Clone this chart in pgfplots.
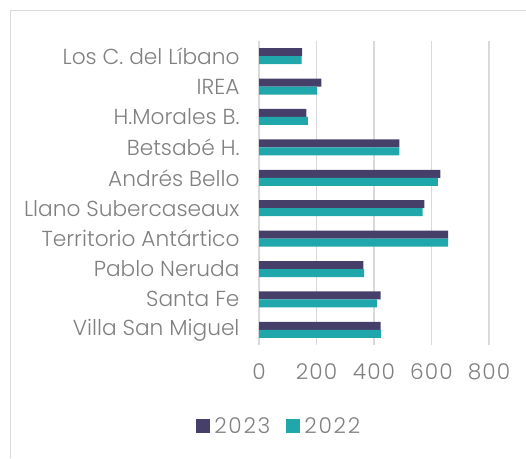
\documentclass[border=0pt]{standalone}
\usepackage{pgfplots}
\pgfplotsset{compat=1.18}
\usepackage{fontspec}
\setmainfont{Poppins}[UprightFont=* Light]
\definecolor{c23}{RGB}{70,63,106}
\definecolor{c22}{RGB}{32,167,172}
\definecolor{txt}{RGB}{128,128,128}
\definecolor{grd}{RGB}{217,217,217}
\begin{document}
\begin{tikzpicture}
\useasboundingbox (0,0) rectangle (526pt,458pt);
\draw[grd, line width=1.2pt] (10.5pt,0) -- (10.5pt,447.5pt) -- (526pt,447.5pt);
\begin{axis}[
  at={(259pt,113pt)}, anchor=south west,
  scale only axis, width=230pt, height=304pt,
  xbar, bar width=8pt,
  xmin=0, xmax=800, ymin=-0.5, ymax=9.5,
  xtick={0,200,400,600,800},
  ytick={0,...,9},
  yticklabels={Villa San Miguel,Santa Fe,Pablo Neruda,Territorio Antártico,Llano Subercaseaux,Andrés Bello,Betsabé H.,H.Morales B.,IREA,Los C. del Líbano},
  axis line style={draw=none},
  major tick length=0pt,
  xmajorgrids, grid style={grd, line width=1.2pt},
  tick label style={font=\fontsize{21.7}{24}\selectfont, text=txt},
  xticklabel style={font=\fontsize{21.7}{24}\selectfont\addfontfeature{LetterSpace=5}},
  yticklabel style={xshift=-16pt},
  xticklabel style={yshift=-15pt},
  /pgf/number format/assume math mode=true,
  legend style={at={(0.088,-0.266)}, anchor=center, draw=none, fill=none,
    font=\fontsize{21.7}{24}\selectfont\addfontfeature{LetterSpace=8}, text=txt, legend columns=2,
    /tikz/every even column/.append style={column sep=14pt}},
  legend image code/.code={\fill[#1] (0pt,-7pt) rectangle (14pt,7pt); \path (16pt,0pt);},
]
\addplot[fill=c23, draw=none, bar shift=4pt] coordinates {
(423,0) (423,1) (363,2) (658,3) (575,4) (631,5) (488,6) (165,7) (217,8) (150,9)};
\addplot[fill=c22, draw=none, bar shift=-4pt] coordinates {
(425,0) (410,1) (366,2) (658,3) (569,4) (622,5) (488,6) (170,7) (202,8) (148,9)};
\legend{2023,2022}
\end{axis}
\end{tikzpicture}
\end{document}
